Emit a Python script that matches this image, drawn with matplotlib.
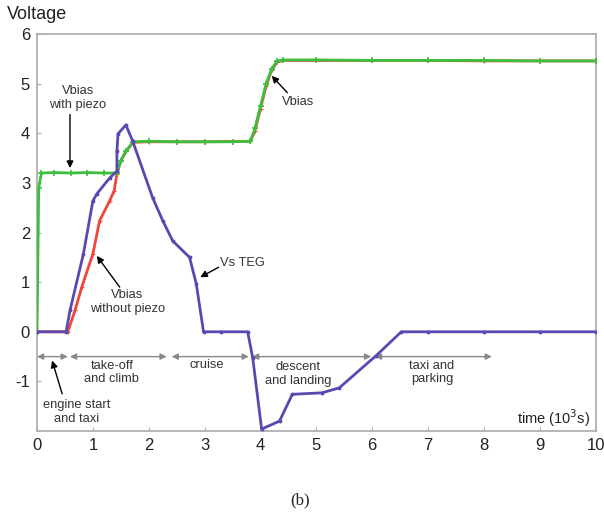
import matplotlib
matplotlib.use("Agg")
import matplotlib.pyplot as plt

plt.rcParams['font.family'] = ['Liberation Sans', 'DejaVu Sans']
plt.rcParams['axes.unicode_minus'] = False

# Vbias with piezo (green)
green_t = [0.0, 0.03, 0.08, 0.3, 0.6, 0.9, 1.2, 1.43, 1.5, 1.6, 1.72, 2.0, 2.5, 3.0, 3.5, 3.82, 3.9, 4.0, 4.1, 4.2, 4.3, 4.4, 5.0, 6.0, 7.0, 8.0, 9.0, 10.0]
green_v = [0.0, 2.9, 3.2, 3.21, 3.2, 3.21, 3.2, 3.2, 3.45, 3.65, 3.83, 3.84, 3.83, 3.83, 3.83, 3.84, 4.1, 4.55, 5.0, 5.3, 5.46, 5.48, 5.48, 5.47, 5.47, 5.47, 5.46, 5.46]

# Vbias without piezo (red)
red_t = [0.0, 0.55, 0.68, 0.8, 1.0, 1.12, 1.3, 1.38, 1.43, 1.5, 1.6, 1.72, 2.0, 3.0, 3.82, 3.9, 4.0, 4.1, 4.2, 4.3, 4.4, 5.0, 6.0, 7.0, 8.0, 9.0, 10.0]
red_v = [0.0, 0.0, 0.43, 0.9, 1.57, 2.24, 2.64, 2.84, 3.18, 3.45, 3.65, 3.82, 3.83, 3.83, 3.84, 4.05, 4.5, 4.95, 5.28, 5.44, 5.47, 5.47, 5.47, 5.47, 5.46, 5.46, 5.46]

# Vs TEG (purple)
teg_t = [0.0, 0.52, 0.59, 0.83, 1.0, 1.07, 1.3, 1.43, 1.43, 1.45, 1.59, 1.71, 2.07, 2.25, 2.43, 2.73, 2.85, 2.98, 3.3, 3.77, 3.86, 4.02, 4.34, 4.57, 5.1, 5.41, 6.07, 6.52, 7.0, 8.0, 9.0, 10.0]
teg_v = [0.0, 0.0, 0.43, 1.57, 2.64, 2.78, 3.1, 3.24, 3.65, 3.99, 4.17, 3.85, 2.7, 2.24, 1.83, 1.5, 0.97, 0.0, 0.0, 0.0, -0.52, -1.96, -1.8, -1.26, -1.23, -1.13, -0.48, 0.0, 0.0, 0.0, 0.0, 0.0]

# flight phases
phase_start = [0.0, 0.59, 2.41, 3.85, 6.05]
phase_end = [0.55, 2.32, 3.79, 5.98, 8.14]
phase_labels = ["engine start\nand taxi", "take-off\nand climb", "cruise", "descent\nand landing", "taxi and\nparking"]
phase_label_x = [0.71, 1.34, 3.03, 4.68, 7.07]
phase_label_y = [-1.62, -0.82, -0.67, -0.85, -0.82]

x_ticks = [0, 1, 2, 3, 4, 5, 6, 7, 8, 9, 10]
y_ticks = [-1, 0, 1, 2, 3, 4, 5, 6]

fig = plt.figure(figsize=(6.04, 5.25), dpi=100)
ax = fig.add_axes([0.0613, 0.179, 0.925, 0.756])

ax.plot(red_t, red_v, color='#f0453a', lw=2.0, marker='+', ms=3, mew=0.8, zorder=3)
ax.plot(green_t, green_v, color='#3cbf3c', lw=2.0, marker='+', ms=4, mew=1.2, zorder=4)
ax.plot(teg_t, teg_v, color='#5a48b0', lw=2.0, marker='.', ms=3.5, zorder=5)

gray = '#888888'
for s, e in zip(phase_start, phase_end):
    ax.annotate("", xy=(e, -0.5), xytext=(s, -0.5),
                arrowprops=dict(arrowstyle='<|-|>', color=gray, lw=1.0,
                                mutation_scale=9, shrinkA=0, shrinkB=0), zorder=2)
for lab, lx, ly in zip(phase_labels, phase_label_x, phase_label_y):
    ax.text(lx, ly, lab, ha='center', va='center', fontsize=9.3, color='#333333',
            linespacing=1.2)

arrow = dict(arrowstyle='-|>', color='black', lw=1.0, mutation_scale=10, shrinkA=0, shrinkB=0)
tsz = 9.3
ax.annotate("", xy=(0.27, -0.58), xytext=(0.45, -1.25), arrowprops=arrow)
ax.text(0.73, 4.72, "Vbias\nwith piezo", ha='center', va='center', fontsize=tsz, color='#333333', linespacing=1.2)
ax.annotate("", xy=(0.59, 3.3), xytext=(0.59, 4.38), arrowprops=arrow)
ax.text(4.67, 4.63, "Vbias", ha='center', va='center', fontsize=tsz, color='#333333')
ax.annotate("", xy=(4.2, 5.16), xytext=(4.48, 4.82), arrowprops=arrow)
ax.text(3.68, 1.38, "Vs TEG", ha='center', va='center', fontsize=tsz, color='#333333')
ax.annotate("", xy=(2.92, 1.1), xytext=(3.25, 1.3), arrowprops=arrow)
ax.text(1.62, 0.6, "Vbias\nwithout piezo", ha='center', va='center', fontsize=tsz, color='#333333', linespacing=1.2)
ax.annotate("", xy=(1.07, 1.53), xytext=(1.48, 0.9), arrowprops=arrow)

ax.text(9.9, -1.75, "time (10$^3$s)", ha='right', va='center', fontsize=10.5, color='#222222')
fig.text(0.062, 0.972, "Voltage", ha='center', va='center', fontsize=13, color='#222222')
fig.text(0.497, 0.047, "(b)", ha='center', va='center', fontsize=12,
         family=['Liberation Serif', 'DejaVu Serif'], color='#222222')

ax.set_xlim(0, 10)
ax.set_ylim(-2, 6)
ax.set_xticks(x_ticks)
ax.set_yticks(y_ticks)
ax.tick_params(direction='in', length=3, color='#aaaaaa', labelsize=12, labelcolor='#222222', pad=5)
for sp in ax.spines.values():
    sp.set_color('#b0b0b0')
    sp.set_linewidth(1.3)

fig.savefig("out.png", dpi=100)
